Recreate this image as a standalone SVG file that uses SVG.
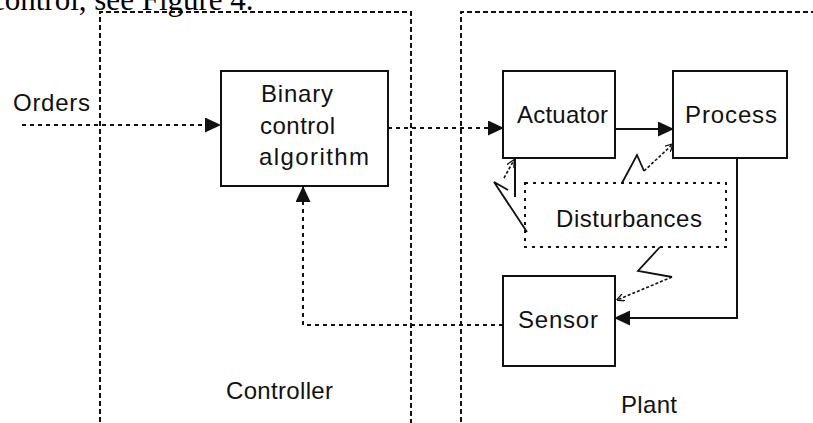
<svg xmlns="http://www.w3.org/2000/svg" width="813" height="423" viewBox="0 0 813 423">
<style>
.bg{fill:#fff}
.box{fill:none;stroke:#111;stroke-width:2}
.bnd{fill:none;stroke:#111;stroke-width:2;stroke-dasharray:5 3}
.dash{fill:none;stroke:#111;stroke-width:2;stroke-dasharray:4 4}
.dbox{fill:none;stroke:#111;stroke-width:2;stroke-dasharray:3 5}
.solid{fill:none;stroke:#111;stroke-width:2}
.thin{fill:none;stroke:#111;stroke-width:1.8}
.thind{fill:none;stroke:#111;stroke-width:1.6;stroke-dasharray:3 2}
.t{font-family:"Liberation Sans",Arial,sans-serif;font-size:24px;fill:#111}
.cap{font-family:"Liberation Serif","Times New Roman",serif;font-size:31px;fill:#000}
</style>
<defs>
<marker id="fa" viewBox="0 0 16 15" refX="15" refY="7.5" markerWidth="16" markerHeight="15" markerUnits="userSpaceOnUse" orient="auto">
<path d="M0,0 L16,7.5 L0,15 Z" fill="#111"/>
</marker>
<marker id="oa" viewBox="0 0 8 8" refX="7.5" refY="4" markerWidth="8" markerHeight="8" markerUnits="userSpaceOnUse" orient="auto">
<path d="M0,0 L8,4 L0,8" fill="none" stroke="#111" stroke-width="1.3"/>
</marker>
</defs>
<rect class="bg" x="0" y="0" width="813" height="423"/>
<text class="cap" x="-9" y="10">control, see Figure 4.</text>

<g id="controller">
<polyline class="bnd" points="100,430 100,12 411,12 411,430"/>
<text class="t" x="226" y="399" textLength="107" lengthAdjust="spacing">Controller</text>
</g>
<g id="plant">
<polyline class="bnd" points="461,430 461,12 820,12"/>
<text class="t" x="621" y="413" textLength="56" lengthAdjust="spacing">Plant</text>
</g>

<g id="orders">
<text class="t" x="13" y="111" textLength="77" lengthAdjust="spacing">Orders</text>
</g>

<g id="binary">
<rect class="box" x="221" y="71" width="167" height="115"/>
<text class="t" x="261" y="102" textLength="72" lengthAdjust="spacing">Binary</text>
<text class="t" x="260" y="134" textLength="75" lengthAdjust="spacing">control</text>
<text class="t" x="259" y="165" textLength="110" lengthAdjust="spacing">algorithm</text>
</g>

<g id="actuator">
<rect class="box" x="503" y="71" width="112" height="87"/>
<text class="t" x="517" y="123" textLength="91" lengthAdjust="spacing">Actuator</text>
</g>

<g id="process">
<rect class="box" x="673" y="71" width="114" height="87"/>
<text class="t" x="685" y="123" textLength="92" lengthAdjust="spacing">Process</text>
</g>

<g id="disturbances">
<rect class="dbox" x="525" y="183" width="201" height="64"/>
<text class="t" x="556" y="227" textLength="146" lengthAdjust="spacing">Disturbances</text>
</g>

<g id="sensor">
<rect class="box" x="503" y="276" width="112" height="90"/>
<text class="t" x="518" y="328" textLength="80" lengthAdjust="spacing">Sensor</text>
</g>

<g id="connectors">
<line class="dash" x1="22" y1="125" x2="220" y2="125" marker-end="url(#fa)"/>
<line class="dash" x1="388" y1="128" x2="503" y2="128" marker-end="url(#fa)"/>
<line class="solid" x1="615" y1="129" x2="673" y2="129" marker-end="url(#fa)"/>
<polyline class="solid" points="737,159 737,318 615,318" marker-end="url(#fa)"/>
<polyline class="dash" points="503,325 303,325 303,187" marker-end="url(#fa)"/>
<line class="solid" x1="515" y1="158" x2="515" y2="197"/>
<polyline class="thin" points="622,183 637,155 644,171"/>
<line class="thind" x1="644" y1="171" x2="673" y2="144" marker-end="url(#oa)"/>
<polyline class="thin" points="527,232 494,182 508,190"/>
<line class="thind" x1="504" y1="178" x2="514" y2="160" marker-end="url(#oa)"/>
<polyline class="thin" points="660,247 638,271 672,277"/>
<line class="thind" x1="672" y1="277" x2="617" y2="300" marker-end="url(#oa)"/>
</g>
</svg>
